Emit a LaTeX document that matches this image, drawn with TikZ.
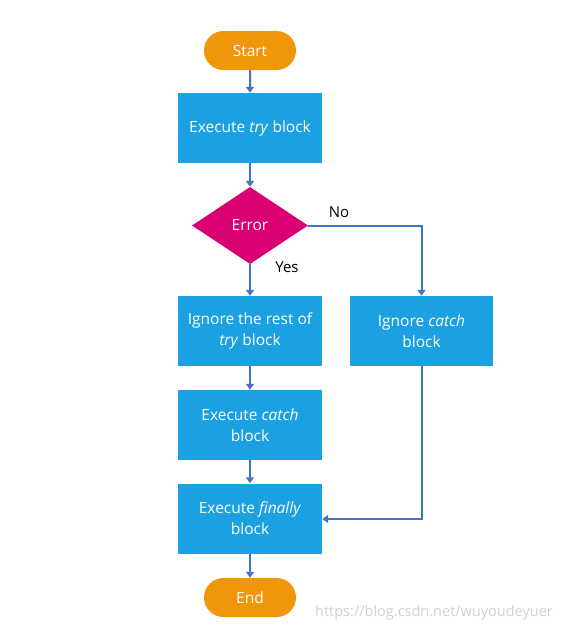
\documentclass[tikz,border=0pt]{standalone}
\usepackage{fontspec}
\setmainfont{Open Sans}
\usetikzlibrary{shapes.geometric,shapes.misc,arrows.meta}
\definecolor{startor}{RGB}{240,150,10}
\definecolor{boxblue}{RGB}{27,161,226}
\definecolor{decmag}{RGB}{216,0,115}
\definecolor{arrblue}{RGB}{68,114,196}
\tikzset{
  x=1pt,y=-1pt,
  term/.style={rounded rectangle, fill=startor, text=white, minimum width=92pt, minimum height=39pt, inner sep=0pt, font=\fontsize{15.5}{20}\selectfont},
  proc/.style={rectangle, fill=boxblue, text=white, minimum width=144pt, minimum height=70pt, inner sep=2pt, align=center, font=\fontsize{15.5}{21}\selectfont},
  dec/.style={diamond, fill=decmag, text=white, minimum width=116pt, minimum height=77pt, inner sep=0pt, font=\fontsize{15.5}{20}\selectfont},
  conn/.style={draw=arrblue, line width=2pt, -{Triangle[length=6pt,width=8pt]}},
  lbl/.style={font=\fontsize{15}{16}\selectfont, text=black}
}
\begin{document}
\begin{tikzpicture}
\useasboundingbox[fill=white] (0,0) rectangle (566,632);
\node[term] (start) at (250,50.5) {Start};
\node[proc] (try) at (250,128) {Execute \textit{try} block};
\node[dec] (err) at (250,225.5) {Error};
\node[proc] (ignrest) at (250,331) {Ignore the rest of\\\textit{try} block};
\node[proc, minimum width=143pt] (igncatch) at (421.5,331) {Ignore \textit{catch}\\block};
\node[proc] (excatch) at (250,425) {Execute \textit{catch}\\block};
\node[proc] (fin) at (250,518.5) {Execute \textit{finally}\\block};
\node[term] (end) at (250,597.5) {End};
\coordinate (c1) at (421.5,225.5);
\coordinate (c2) at (421.5,519);
\node[lbl] (no) at (339,212) {No};
\node[lbl] (yes) at (287,267) {Yes};
\node[font=\fontsize{14.5}{16}\selectfont, text=black!18, anchor=west, inner sep=0pt] (wm) at (315,613) {https://blog.csdn.net/wuyoudeyuer};
\draw[conn] (start) -- (try);
\draw[conn] (try) -- (err);
\draw[conn] (err) -- (ignrest);
\draw[conn] (err.east) -- (c1) -- (igncatch);
\draw[conn] (ignrest) -- (excatch);
\draw[conn] (excatch) -- (fin);
\draw[conn] (igncatch) -- (c2) -- (c2 -| fin.east);
\draw[conn] (fin) -- (end);
\end{tikzpicture}
\end{document}
